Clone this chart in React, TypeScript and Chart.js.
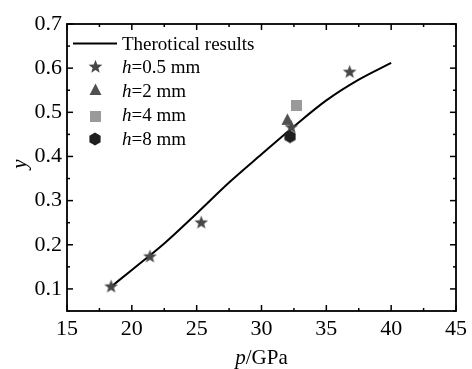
import React, { useEffect, useRef } from "react";
import { Chart, registerables } from "chart.js";

Chart.register(...registerables);

// Theoretical curve
const curveP = [18.4, 20, 22.5, 25, 27.5, 30, 32.5, 35, 37.5, 40];
const curveY = [0.105, 0.143, 0.203, 0.271, 0.341, 0.405, 0.468, 0.527, 0.574, 0.612];

// Experimental points
const h05P = [18.4, 21.4, 25.35, 32.3, 36.8];
const h05Y = [0.106, 0.174, 0.251, 0.467, 0.592];
const h2P = [32.0];
const h2Y = [0.484];
const h4P = [32.7];
const h4Y = [0.516];
const h8P = [32.2];
const h8Y = [0.445];

const xTicks = [15, 20, 25, 30, 35, 40, 45];
const yTicks = [0.1, 0.2, 0.3, 0.4, 0.5, 0.6, 0.7];
const xMinor = [17.5, 22.5, 27.5, 32.5, 37.5, 42.5];
const yMinor = [0.05, 0.15, 0.25, 0.35, 0.45, 0.55, 0.65];

const legendLabels = ["Therotical results", "=0.5 mm", "=2 mm", "=4 mm", "=8 mm"];

const FONT = "'Liberation Serif', 'DejaVu Serif', serif";

function makeCanvas(w: number, h: number, draw: (ctx: CanvasRenderingContext2D) => void) {
  const c = document.createElement("canvas");
  c.width = w;
  c.height = h;
  const ctx = c.getContext("2d")!;
  draw(ctx);
  return c;
}

function starImg(color: string) {
  return makeCanvas(15, 15, (ctx) => {
    const cx = 7.5, cy = 8, R = 7.2, r = 3.0;
    ctx.beginPath();
    for (let i = 0; i < 10; i++) {
      const ang = -Math.PI / 2 + (i * Math.PI) / 5;
      const rad = i % 2 === 0 ? R : r;
      const x = cx + rad * Math.cos(ang);
      const y = cy + rad * Math.sin(ang);
      if (i === 0) ctx.moveTo(x, y);
      else ctx.lineTo(x, y);
    }
    ctx.closePath();
    ctx.fillStyle = color;
    ctx.fill();
  });
}

function triImg(color: string) {
  return makeCanvas(13, 13, (ctx) => {
    ctx.beginPath();
    ctx.moveTo(6.5, 0.5);
    ctx.lineTo(12.5, 12);
    ctx.lineTo(0.5, 12);
    ctx.closePath();
    ctx.fillStyle = color;
    ctx.fill();
  });
}

function sqImg(color: string) {
  return makeCanvas(11, 11, (ctx) => {
    ctx.fillStyle = color;
    ctx.fillRect(0, 0, 11, 11);
  });
}

function hexImg(color: string) {
  return makeCanvas(12, 14, (ctx) => {
    const cx = 6, cy = 7, rx = 5.6, ry = 6.6;
    ctx.beginPath();
    ctx.moveTo(cx, cy - ry);
    ctx.lineTo(cx + rx, cy - ry / 2);
    ctx.lineTo(cx + rx, cy + ry / 2);
    ctx.lineTo(cx, cy + ry);
    ctx.lineTo(cx - rx, cy + ry / 2);
    ctx.lineTo(cx - rx, cy - ry / 2);
    ctx.closePath();
    ctx.fillStyle = color;
    ctx.fill();
  });
}

export default function App() {
  const ref = useRef<HTMLCanvasElement | null>(null);

  useEffect(() => {
    if (!ref.current) return;
    const starC = starImg("#474747");
    const triC = triImg("#505050");
    const sqC = sqImg("#9a9a9a");
    const hexC = hexImg("#1e1e1e");

    const framePlugin = {
      id: "frame",
      afterDatasetsDraw(chart: any) {
        const ctx = chart.ctx as CanvasRenderingContext2D;
        const { left, right, top, bottom } = chart.chartArea;
        const xs = chart.scales.x;
        const ys = chart.scales.y;
        ctx.save();
        ctx.strokeStyle = "#000";
        ctx.lineWidth = 1.8;
        ctx.strokeRect(left, top, right - left, bottom - top);
        ctx.lineWidth = 1.5;
        const tick = (x1: number, y1: number, x2: number, y2: number) => {
          ctx.beginPath();
          ctx.moveTo(x1, y1);
          ctx.lineTo(x2, y2);
          ctx.stroke();
        };
        xTicks.forEach((v) => {
          const x = xs.getPixelForValue(v);
          tick(x, bottom, x, bottom - 6);
          tick(x, top, x, top + 6);
        });
        xMinor.forEach((v) => {
          const x = xs.getPixelForValue(v);
          tick(x, bottom, x, bottom - 3);
          tick(x, top, x, top + 3);
        });
        yTicks.forEach((v) => {
          const y = ys.getPixelForValue(v);
          tick(left, y, left + 6, y);
          tick(right, y, right - 6, y);
        });
        yMinor.forEach((v) => {
          const y = ys.getPixelForValue(v);
          tick(left, y, left + 3, y);
          tick(right, y, right - 3, y);
        });

        // axis titles
        ctx.fillStyle = "#000";
        ctx.textBaseline = "alphabetic";
        ctx.font = `italic 21px ${FONT}`;
        const pW = ctx.measureText("p").width;
        ctx.font = `21px ${FONT}`;
        const gW = ctx.measureText("/GPa").width;
        const cx = (left + right) / 2;
        const sx = cx - (pW + gW) / 2;
        ctx.font = `italic 21px ${FONT}`;
        ctx.textAlign = "left";
        ctx.fillText("p", sx, 364);
        ctx.font = `21px ${FONT}`;
        ctx.fillText("/GPa", sx + pW, 364);

        ctx.save();
        ctx.translate(26, 164);
        ctx.rotate(-Math.PI / 2);
        ctx.font = `italic 21px ${FONT}`;
        ctx.textAlign = "center";
        ctx.fillText("y", 0, 0);
        ctx.restore();

        // legend
        ctx.lineWidth = 2;
        tick(73, 43.5, 117, 43.5);
        ctx.font = `19px ${FONT}`;
        ctx.textAlign = "left";
        ctx.textBaseline = "alphabetic";
        ctx.fillText(legendLabels[0], 122, 49.5);
        const imgs = [starC, triC, sqC, hexC];
        const cys = [66.5, 89, 116, 138.5];
        const bases = [73, 96.5, 120.5, 145];
        for (let i = 0; i < 4; i++) {
          const im = imgs[i];
          ctx.drawImage(im, Math.round(95 - im.width / 2), Math.round(cys[i] - im.height / 2));
          ctx.font = `italic 19px ${FONT}`;
          ctx.fillText("h", 122, bases[i]);
          const hw = ctx.measureText("h").width;
          ctx.font = `19px ${FONT}`;
          ctx.fillText(legendLabels[i + 1], 122 + hw, bases[i]);
        }
        ctx.restore();
      },
    };

    const toXY = (xs: number[], ys: number[]) => xs.map((x, i) => ({ x, y: ys[i] }));

    const chart = new Chart(ref.current, {
      type: "scatter",
      data: {
        datasets: [
          {
            type: "line",
            data: toXY(curveP, curveY),
            borderColor: "#000",
            borderWidth: 2,
            pointRadius: 0,
            showLine: true,
            cubicInterpolationMode: "monotone",
            fill: false,
            order: 5,
          } as any,
          { data: toXY(h05P, h05Y), pointStyle: starC, order: 4 } as any,
          { data: toXY(h2P, h2Y), pointStyle: triC, order: 3 } as any,
          { data: toXY(h4P, h4Y), pointStyle: sqC, order: 2 } as any,
          { data: toXY(h8P, h8Y), pointStyle: hexC, order: 1 } as any,
        ],
      },
      options: {
        responsive: false,
        animation: false,
        layout: { padding: { top: 24, right: 13, left: 0, bottom: 0 } },
        plugins: { legend: { display: false }, tooltip: { enabled: false } },
        scales: {
          x: {
            type: "linear",
            min: 15,
            max: 45,
            grid: { display: false, drawTicks: false },
            border: { display: false },
            afterBuildTicks: (s: any) => {
              s.ticks = xTicks.map((v) => ({ value: v }));
            },
            afterFit: (s: any) => {
              s.height = 58;
            },
            ticks: { color: "#000", font: { family: FONT, size: 22 }, padding: 5, maxRotation: 0, autoSkip: false },
          },
          y: {
            type: "linear",
            min: 0.05,
            max: 0.7,
            grid: { display: false, drawTicks: false },
            border: { display: false },
            afterBuildTicks: (s: any) => {
              s.ticks = yTicks.map((v) => ({ value: v }));
            },
            afterFit: (s: any) => {
              s.width = 67;
            },
            ticks: {
              color: "#000",
              font: { family: FONT, size: 22 },
              padding: 5,
              autoSkip: false,
              callback: (v: any) => Number(v).toFixed(1),
            },
          },
        },
      },
      plugins: [framePlugin],
    } as any);
    return () => chart.destroy();
  }, []);

  return (
    <div style={{ position: "absolute", left: 0, top: 0, width: 472, height: 369, background: "#fff" }}>
      <canvas ref={ref} width={472} height={369} style={{ width: 472, height: 369 }} />
    </div>
  );
}
